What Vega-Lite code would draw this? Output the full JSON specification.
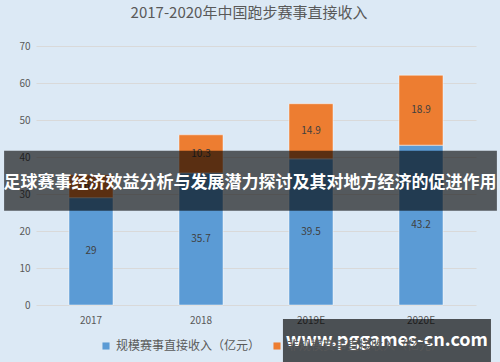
{
  "$schema": "https://vega.github.io/schema/vega-lite/v6.json",
  "width": 440,
  "height": 259,
  "autosize": "none",
  "padding": {"left": 36, "top": 46, "right": 24, "bottom": 57},
  "background": "#dce9f5",
  "config": {
    "view": {"stroke": null},
    "font": "Noto Sans CJK SC",
    "axis": {"labelFont": "Noto Sans CJK SC", "labelColor": "#595959", "labelFontSize": 10, "ticks": false, "domain": false, "title": null},
    "legend": {"labelFont": "Noto Sans CJK SC"}
  },
  "title": {
    "text": "2017-2020年中国跑步赛事直接收入",
    "fontSize": 15,
    "fontWeight": "normal",
    "color": "#595959",
    "anchor": "middle",
    "dx": -7,
    "offset": 20
  },
  "layer": [
    {
      "data": {
        "values": [
          {"year": "2017", "series": "规模赛事直接收入（亿元）", "value": 29, "order": 1},
          {"year": "2017", "series": "非规模赛事直接收入（亿元）", "value": 6.2, "order": 2},
          {"year": "2018", "series": "规模赛事直接收入（亿元）", "value": 35.7, "order": 1},
          {"year": "2018", "series": "非规模赛事直接收入（亿元）", "value": 10.3, "order": 2},
          {"year": "2019E", "series": "规模赛事直接收入（亿元）", "value": 39.5, "order": 1},
          {"year": "2019E", "series": "非规模赛事直接收入（亿元）", "value": 14.9, "order": 2},
          {"year": "2020E", "series": "规模赛事直接收入（亿元）", "value": 43.2, "order": 1},
          {"year": "2020E", "series": "非规模赛事直接收入（亿元）", "value": 18.9, "order": 2}
        ]
      },
      "encoding": {
        "x": {
          "field": "year", "type": "nominal", "sort": null,
          "scale": {"paddingInner": 0.6, "paddingOuter": 0.3},
          "axis": {"labelAngle": 0, "labelPadding": 10, "grid": false}
        },
        "y": {
          "field": "value", "type": "quantitative", "stack": "zero",
          "scale": {"domain": [0, 70], "nice": false},
          "axis": {"values": [0, 10, 20, 30, 40, 50, 60, 70], "gridColor": "#d9d9d9", "gridWidth": 1, "labelPadding": 6, "labelOverlap": false}
        },
        "order": {"field": "order", "type": "quantitative"}
      },
      "layer": [
        {
          "mark": {"type": "bar", "stroke": "#ffffff", "strokeWidth": 0.6, "strokeOpacity": 0.8},
          "encoding": {
            "color": {
              "field": "series", "type": "nominal",
              "scale": {"domain": ["规模赛事直接收入（亿元）", "非规模赛事直接收入（亿元）"], "range": ["#5b9bd5", "#ed7d31"]},
              "legend": {
                "orient": "none", "legendX": 64, "legendY": 294, "direction": "horizontal", "title": null,
                "symbolType": "square", "symbolSize": 50, "symbolStrokeWidth": 0,
                "labelFontSize": 12, "labelColor": "#595959", "columnPadding": 10,
                "zindex": -1
              }
            }
          }
        },
        {
          "mark": {"type": "text", "fontSize": 10, "color": "#404040", "baseline": "middle"},
          "encoding": {
            "y": {"field": "value", "type": "quantitative", "stack": "zero", "bandPosition": 0.5},
            "text": {"field": "value", "type": "quantitative"}
          }
        }
      ]
    },
    {
      "data": {"values": [{"banner": "足球赛事经济效益分析与发展潜力探讨及其对地方经济的促进作用", "site": "www.pggames-cn.com"}]},
      "layer": [
        {
          "mark": {"type": "rect", "color": "#000000", "opacity": 0.62},
          "encoding": {
            "x": {"datum": -0.29, "type": "quantitative", "scale": {"domain": [0, 4], "nice": false, "zero": false}, "axis": null},
            "x2": {"datum": 4.19},
            "y": {"datum": 41.7, "type": "quantitative", "axis": null},
            "y2": {"datum": 25.5}
          }
        },
        {
          "mark": {"type": "text", "color": "#ffffff", "fontSize": 17, "fontWeight": "bold", "baseline": "middle", "align": "center"},
          "encoding": {
            "x": {"datum": 1.945, "type": "quantitative", "axis": null},
            "y": {"datum": 33.0, "type": "quantitative", "axis": null},
            "text": {"field": "banner"}
          }
        },
        {
          "mark": {"type": "rect", "color": "#000000", "opacity": 0.66},
          "encoding": {
            "x": {"datum": 2.245, "type": "quantitative", "axis": null},
            "x2": {"datum": 4.136},
            "y": {"datum": -3.8, "type": "quantitative", "axis": null},
            "y2": {"datum": -16}
          }
        },
        {
          "mark": {"type": "text", "color": "#ffffff", "fontSize": 18, "fontWeight": "bold", "baseline": "middle", "align": "center"},
          "encoding": {
            "x": {"datum": 3.19, "type": "quantitative", "axis": null},
            "y": {"datum": -9.6, "type": "quantitative", "axis": null},
            "text": {"field": "site"}
          }
        }
      ]
    }
  ],
  "resolve": {"scale": {"x": "independent"}, "axis": {"y": "independent"}}
}
